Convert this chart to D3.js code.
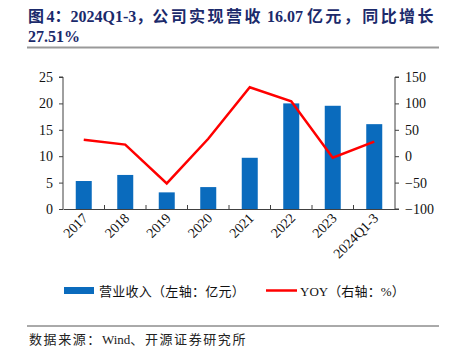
<!DOCTYPE html>
<html><head><meta charset="utf-8">
<script src="https://cdn.jsdelivr.net/npm/d3@7"></script>
<style>body{margin:0;background:#fff}svg{display:block}</style>
</head><body>
<svg id="c" width="453" height="357"></svg>
<script>
const categories = ["2017","2018","2019","2020","2021","2022","2023","2024Q1-3"];
const revenue = [5.3, 6.45, 3.15, 4.15, 9.7, 20.0, 19.55, 16.07];
const yoy = [31, 22, -51.5, 33, 130.5, 104, -3, 27.51];
const leftTicks = [0,5,10,15,20,25];
const rightTicks = [-100,-50,0,50,100,150];

(function(){
const svg = d3.select("#c");
const serif = "'Liberation Serif','Times New Roman',serif";
const cjk = "'Liberation Serif','Noto Sans CJK SC',serif";
const pL = 63, pR = 395, pT = 77, pB = 209;

// text whose CJK segments are spread so that the whole text has the target width
function segText(sel, segs, target){
  const sp = segs.map(([t,isCjk])=>sel.append("tspan").attr("letter-spacing",0).text(t));
  const node = sel.node();
  const w0 = node.getBBox().width;
  sp.forEach((s,i)=>{ if(segs[i][1]) s.attr("letter-spacing",1); });
  const w1 = node.getBBox().width;
  const ls = w1>w0 ? Math.max(0,(target-w0)/(w1-w0)) : 0;
  sp.forEach((s,i)=>{ if(segs[i][1]) s.attr("letter-spacing",ls); });
}

// Title
const title = svg.append("text").attr("fill","#1b2a6b").attr("font-weight","bold")
  .attr("font-family",cjk).attr("font-size",16).attr("x",28).attr("y",22);
segText(title, [["图",1],["4：2024Q1-3，",0],["公司实现营收",1],[" 16.07 ",0],["亿元，同比增长",1]], 408);
svg.append("text").attr("fill","#1b2a6b").attr("font-weight","bold")
  .attr("font-family",serif).attr("font-size",16).attr("x",28).attr("y",42).text("27.51%");
svg.append("line").attr("x1",27).attr("x2",439).attr("y1",47.5).attr("y2",47.5)
  .attr("stroke","#999").attr("stroke-width",2);

const x = d3.scaleBand().domain(categories).range([pL,pR]).paddingInner(0).paddingOuter(0);
const yL = d3.scaleLinear().domain([0,25]).range([pB,pT]);
const yR = d3.scaleLinear().domain([-100,150]).range([pB,pT]);

// bars
svg.append("g").selectAll("rect").data(revenue).join("rect")
  .attr("x",(d,i)=>x(categories[i])+x.bandwidth()/2-8)
  .attr("width",16)
  .attr("y",d=>yL(d)).attr("height",d=>yL(0)-yL(d))
  .attr("fill","#0a6bbd");

// line
const line = d3.line().x((d,i)=>x(categories[i])+x.bandwidth()/2).y(d=>yR(d));
svg.append("path").datum(yoy).attr("d",line).attr("fill","none")
  .attr("stroke","#ff0000").attr("stroke-width",2.5).attr("stroke-linejoin","miter");

// axes
const axL = svg.append("g").attr("transform",`translate(${pL},0)`)
  .call(d3.axisLeft(yL).tickValues(leftTicks).tickSize(4).tickPadding(6));
const axR = svg.append("g").attr("transform",`translate(${pR},0)`)
  .call(d3.axisRight(yR).tickValues(rightTicks).tickSize(4).tickPadding(6));
const axB = svg.append("g").attr("transform",`translate(0,${pB})`)
  .call(d3.axisBottom(x).tickSizeOuter(0).tickValues([]));
svg.append("g").selectAll("line").data(categories.slice(1)).join("line")
  .attr("x1",d=>x(d)).attr("x2",d=>x(d)).attr("y1",pB).attr("y2",pB-4)
  .attr("stroke","#404040");
[axL,axR,axB].forEach(a=>{
  a.selectAll("path,line").attr("stroke","#404040");
  a.selectAll("text").attr("font-family",serif).attr("font-size",14).attr("fill","#111");
});
axL.select("path").attr("d",`M-4,${pT}H0V${pB}`);
axR.select("path").attr("d",`M4,${pT}H0V${pB}H4`);

// x labels rotated
svg.append("g").selectAll("text").data(categories).join("text")
  .attr("transform",d=>`translate(${x(d)+x.bandwidth()/2+5},${pB+10}) rotate(-45)`)
  .attr("text-anchor","end").attr("font-family",serif).attr("font-size",14).attr("fill","#111")
  .text(d=>d);

// legend
svg.append("rect").attr("x",64).attr("y",287).attr("width",30).attr("height",7).attr("fill","#0a6bbd");
const lg1 = svg.append("text").attr("x",99).attr("y",296).attr("font-family",cjk).attr("font-size",13).attr("fill","#111");
segText(lg1, [["营业收入（左轴：亿元）",1]], 146);
svg.append("line").attr("x1",266).attr("x2",297).attr("y1",290.5).attr("y2",290.5)
  .attr("stroke","#ff0000").attr("stroke-width",2.5);
const lg2 = svg.append("text").attr("x",300).attr("y",296).attr("font-family",cjk).attr("font-size",13).attr("fill","#111");
segText(lg2, [["YOY",0],["（右轴：%）",1]], 105);

// footer
svg.append("line").attr("x1",27).attr("x2",439).attr("y1",326).attr("y2",326)
  .attr("stroke","#555").attr("stroke-width",1);
const ft = svg.append("text").attr("x",29).attr("y",344).attr("font-family",cjk).attr("font-size",13).attr("fill","#222");
segText(ft, [["数据来源：",1],["Wind",0],["、开源证券研究所",1]], 218);
})();
</script>
</body></html>
